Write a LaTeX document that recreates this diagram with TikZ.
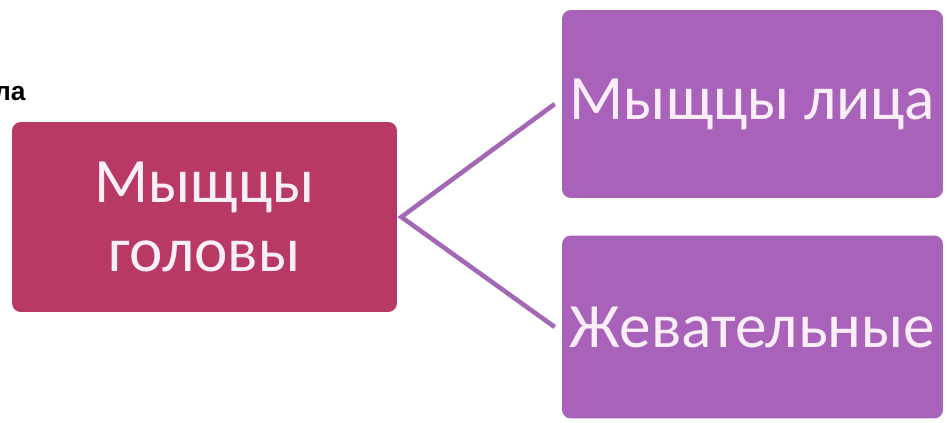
\documentclass[tikz,border=0pt]{standalone}
\usepackage{fontspec}
\setmainfont{Carlito}
\newfontfamily\scrapfont{Liberation Sans}
\definecolor{headred}{RGB}{184,58,100}
\definecolor{lilac}{RGB}{168,98,186}
\definecolor{linkviolet}{RGB}{162,104,182}
\definecolor{pinkwhite}{RGB}{252,238,248}
\begin{document}
\begin{tikzpicture}[x=0.02cm,y=-0.02cm]
        \tikzstyle{box}=[rounded corners=5pt, text=pinkwhite, align=center, inner sep=0pt, font=\fontsize{36}{39}\selectfont]
        \tikzstyle{link}=[draw=linkviolet, line width=2.6pt]
        \useasboundingbox[fill=white] (0,0) rectangle (948,423);
        \begin{scope}
          \clip (0,0) rectangle (948,423);
          \node[anchor=base east, inner sep=0pt, font=\scrapfont\bfseries\fontsize{15}{15}\selectfont] (scrap) at (26,100) {ла};
        \end{scope}
        \node[box, fill=headred, minimum width=7.7cm, minimum height=3.8cm] (head) at (204.5,217) {Мыщцы\\головы};
        \node[box, fill=lilac, minimum width=7.62cm, minimum height=3.76cm] (face) at (752.5,104) {Мыщцы лица};
        \node[box, fill=lilac, minimum width=7.62cm, minimum height=3.66cm] (chew) at (752.5,327) {Жевательные};
        \coordinate (fork) at ([xshift=4*0.02cm]head.east);
        \draw[link] ([xshift=-7*0.02cm]face.west) -- (fork) -- ([xshift=-7*0.02cm]chew.west);
      \end{tikzpicture}
\end{document}
